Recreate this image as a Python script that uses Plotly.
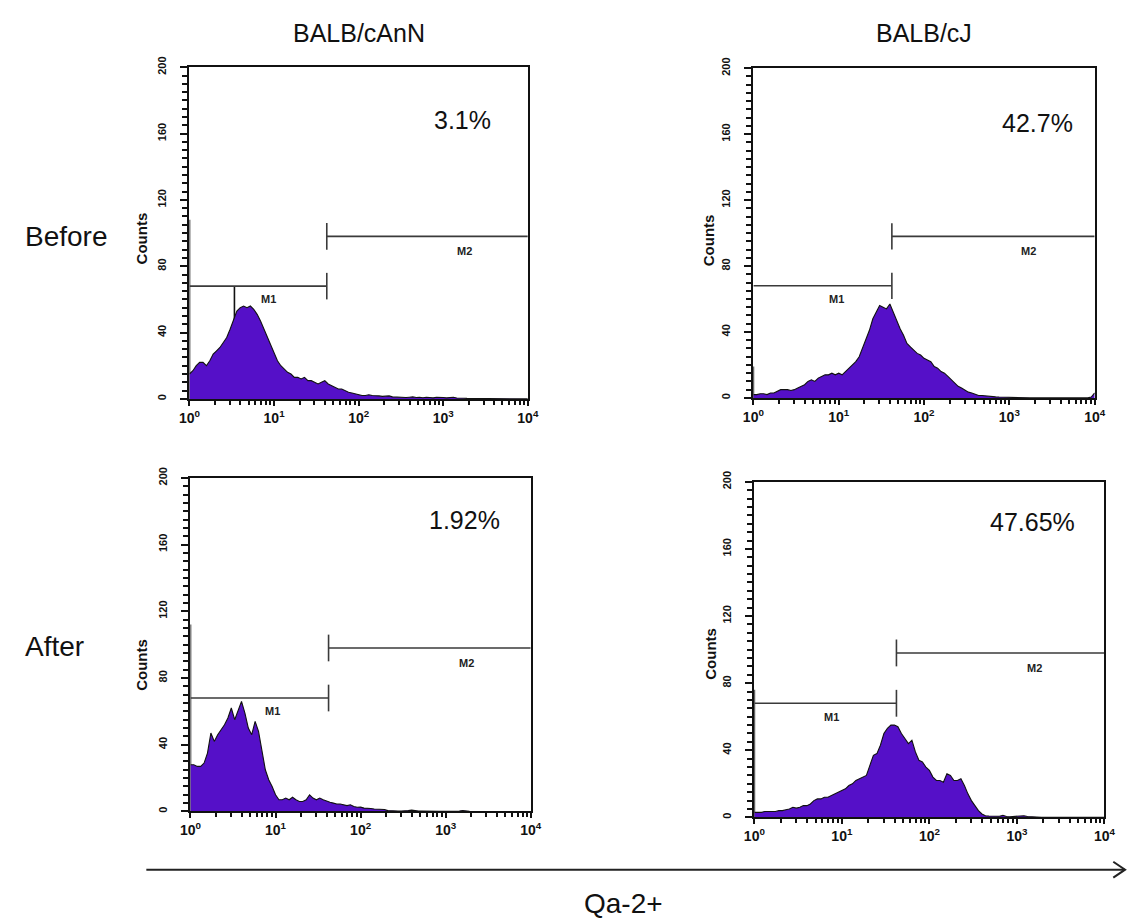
import plotly.graph_objects as go

# ---------------------------------------------------------------------------
# Data: Qa-2 fluorescence histograms (counts per log-channel bin)
# bins are spaced every 0.04 decade from 10^0 to 10^4 (101 bins)
# ---------------------------------------------------------------------------
STRAINS = ["BALB/cAnN", "BALB/cJ"]
TIMEPOINTS = ["Before", "After"]
DECADE_TICKS = [1, 10, 100, 1000, 10000]
DECADE_LABELS = ["10<sup>0</sup>", "10<sup>1</sup>", "10<sup>2</sup>", "10<sup>3</sup>", "10<sup>4</sup>"]
COUNT_TICKS = [0, 40, 80, 120, 160, 200]

before_cAnN = [
    15, 17, 20, 22, 22, 20, 23, 27, 29, 31,
    34, 37, 42, 47, 53, 55, 56, 55, 56, 54,
    51, 47, 42, 37, 32, 27, 23, 20, 18, 16,
    15, 13, 13, 12, 13, 11, 11, 10, 9, 10,
    11, 9, 8, 7, 6, 6, 5, 4, 3.5, 3,
    2.5, 2, 2, 2.5, 2, 2, 1.8, 1.5, 1.5, 1.8,
    1.2, 1, 1.2, 1, 0.8, 1, 1.2, 0.8, 1, 0.7,
    1, 0.8, 0.6, 1, 0.7, 0.8, 0.6, 0.8, 1, 0.5,
    0.6, 0.4, 0.3, 0.3, 0.2, 0.3, 0.2, 0.2, 0.1, 0.2,
    0.1, 0.1, 0, 0, 0.1, 0, 0, 0, 0, 0,
    0,
]
before_cJ = [
    2, 2, 2.5, 2.5, 2, 3, 3, 4, 5, 5,
    5, 4.5, 5, 6, 7, 8, 10, 11, 10, 12,
    13, 14, 14, 15, 14, 15, 14, 16, 18, 20,
    22, 25, 30, 36, 41, 48, 52, 56, 55, 54,
    57, 52, 46, 42, 38, 33, 31, 29, 27, 26,
    24, 23, 22, 19, 18, 16, 15, 13, 11, 9,
    7, 6, 4.5, 3.5, 3, 2, 1.5, 1.5, 1.2, 1,
    0.8, 0.6, 0.5, 0.4, 0.3, 0.3, 0.2, 0.2, 0.1, 0.1,
    0.1, 0, 0, 0, 0, 0, 0, 0, 0, 0,
    0, 0, 0, 0, 0, 0, 0, 0, 0, 0.5,
    3,
]
after_cAnN = [
    28, 28, 27, 27, 29, 35, 47, 42, 46, 49,
    52, 56, 62, 55, 60, 66, 59, 50, 46, 54,
    48, 37, 25, 19, 15, 10, 7, 7, 8, 7,
    8.5, 7, 6, 6, 7, 10, 8, 7, 8, 7,
    6, 5.5, 5, 4.5, 4.5, 4, 3.5, 4, 3, 2.5,
    2.6, 2, 2, 1.8, 1.5, 1.5, 1.2, 1.2, 0.5, 0.3,
    0.3, 0.2, 0.3, 0.2, 0.5, 0.8, 0.3, 0.2, 0.2, 0.1,
    0.1, 0.1, 0.2, 0.1, 0.1, 0.1, 0.2, 0.1, 0.2, 0.3,
    0.6, 0.2, 0.1, 0, 0, 0, 0, 0, 0, 0,
    0, 0, 0, 0, 0, 0, 0, 0, 0, 0,
    0,
]
after_cJ = [
    3, 3, 3, 3.5, 3.5, 3.5, 3.5, 4, 4, 4.5,
    5, 6, 5.5, 6, 7, 7, 8, 10, 11, 11,
    12, 12, 13, 14, 15, 16, 17, 19, 20, 22,
    23, 24, 25, 31, 37, 38, 43, 50, 53, 55,
    55, 54, 50, 47, 44, 46, 39, 34, 33, 30,
    28, 24, 22, 22, 21, 26, 25, 22, 22, 23,
    19, 14, 10, 7, 4, 2, 1, 0.8, 0.8, 1,
    0.7, 1.2, 0.5, 0.4, 0.6, 0.5, 0.8, 1, 0.5, 0.3,
    0.2, 0.1, 0, 0, 0, 0, 0, 0, 0, 0,
    0, 0, 0, 0, 0, 0, 0, 0, 0, 0,
    0,
]
# counts piled up in the lowest channel (drawn as a spike at 10^0)
first_channel = [108, 19, 112, 76]
# isolated single-channel spikes: panel index, channel value, count
single_spikes = [(0, 3.4, 68)]

# marker gates: M1 (negative) and M2 (Qa-2+) split at the same channel
gate_split = [42, 42, 42, 42]
m1_level = 68
m2_level = 98
positive_pct = ["3.1%", "42.7%", "1.92%", "47.65%"]

BIN_STEP = 0.04
bin_log = [round(i * BIN_STEP, 2) for i in range(len(before_cAnN))]
bin_x = [10 ** v for v in bin_log]

# ---------------------------------------------------------------------------
# Layout geometry (pixels on a 1139 x 922 page)
# ---------------------------------------------------------------------------
W, H = 1139, 922
FONT = "Arial, Liberation Sans, sans-serif"
FILL = "#5510c8"
INK = "#111111"
MARK = "#3a3a3a"

panel_boxes = [  # left, right, top, bottom
    (182, 527, 57, 393),
    (757, 1105, 58, 392),
    (183, 530, 473, 811),
    (758, 1115, 477, 817),
]
counts_label_pos = [(133, 230), (712, 232), (133, 662), (713, 651)]
pct_pos = [(3.23, 168), (3.33, 167), (3.22, 175), (3.18, 176)]
m1_label_x = [0.94, 0.98, 0.96, 0.885]
m2_label_x = [3.25, 3.22, 3.25, 3.20]


def px(x):
    return x / W


def py(y):
    return 1 - y / H


def page_text(x, y, text, size, anchor="center", angle=0):
    return dict(x=px(x), y=py(y), xref="paper", yref="paper", text=text,
                xanchor=anchor, yanchor="middle", textangle=angle, showarrow=False,
                font=dict(family=FONT, size=size, color="#111"))


series = [before_cAnN, before_cJ, after_cAnN, after_cJ]

fig = go.Figure()
annotations = []
minor_x = [m * 10 ** k for k in range(4) for m in range(2, 10)]

for i, counts in enumerate(series):
    n = i + 1
    xa = "x" if n == 1 else f"x{n}"
    ya = "y" if n == 1 else f"y{n}"

    # spikes go underneath so the opaque histogram fill hides their lower part
    sx, sy = [bin_x[0], bin_x[0]], [0, first_channel[i]]
    for p, chan, cnt in single_spikes:
        if p == i:
            sx += [None, chan, chan]
            sy += [None, 0, cnt]
    fig.add_trace(go.Scatter(
        x=sx, y=sy, mode="lines",
        line=dict(color=INK, width=1.6), xaxis=xa, yaxis=ya,
        showlegend=False, hoverinfo="skip",
    ))
    # histogram body
    fig.add_trace(go.Scatter(
        x=bin_x, y=counts, mode="lines", fill="tozeroy",
        fillcolor=FILL, line=dict(color=INK, width=1.1),
        xaxis=xa, yaxis=ya, showlegend=False, hoverinfo="skip",
    ))
    # M1 / M2 marker bars with end ticks
    s = gate_split[i]
    tick_h = 8
    fig.add_trace(go.Scatter(
        x=[bin_x[0], s, None, s, s, None, s, bin_x[-1], None, s, s],
        y=[m1_level, m1_level, None, m1_level - tick_h, m1_level + tick_h, None,
           m2_level, m2_level, None, m2_level - tick_h, m2_level + tick_h],
        mode="lines", line=dict(color=MARK, width=1.6),
        xaxis=xa, yaxis=ya, showlegend=False, hoverinfo="skip",
    ))

    annotations += [
        dict(x=m1_label_x[i], y=60, xref=xa, yref=ya, text="<b>M1</b>",
             showarrow=False, font=dict(family=FONT, size=11, color="#222")),
        dict(x=m2_label_x[i], y=89, xref=xa, yref=ya, text="<b>M2</b>",
             showarrow=False, font=dict(family=FONT, size=11, color="#222")),
        dict(x=pct_pos[i][0], y=pct_pos[i][1], xref=xa, yref=ya, text=positive_pct[i],
             showarrow=False, font=dict(family=FONT, size=25, color="#111")),
        page_text(counts_label_pos[i][0], counts_label_pos[i][1], "<b>Counts</b>", 15,
                  angle=-90),
    ]

    l, r, t, b = panel_boxes[i]
    axis_common = dict(showline=True, linecolor=INK, linewidth=2, mirror=True,
                       showgrid=False, zeroline=False, ticks="outside",
                       tickcolor=INK, tickwidth=2)
    fig.layout[f"xaxis{n if n > 1 else ''}"] = dict(
        axis_common, domain=[px(l), px(r)], anchor=ya, type="log", range=[0, 4],
        tickmode="array", tickvals=DECADE_TICKS, ticktext=DECADE_LABELS, ticklen=5,
        tickfont=dict(family=FONT, size=14, color="#111", weight="bold"),
        minor=dict(ticks="outside", tickmode="array", tickvals=minor_x,
                   ticklen=4, tickwidth=1.5, tickcolor=INK, showgrid=False),
    )
    fig.layout[f"yaxis{n if n > 1 else ''}"] = dict(
        axis_common, domain=[py(b), py(t)], anchor=xa, range=[0, 200],
        tickmode="array", tickvals=COUNT_TICKS, tickangle=-90, ticklen=7,
        ticklabelstandoff=10,
        tickfont=dict(family=FONT, size=11, color="#111", weight="bold"),
        minor=dict(ticks="outside", dtick=5, ticklen=5, tickwidth=1.5,
                   tickcolor=INK, showgrid=False),
    )

# column and row headings
for j, strain in enumerate(STRAINS):
    l, r, _, _ = panel_boxes[j]
    annotations.append(page_text((l + r) / 2, 22, strain, 25))
for label, yy in zip(TIMEPOINTS, [228, 644]):
    annotations.append(page_text(12, yy, label, 28, anchor="left"))

annotations.append(page_text(625, 904, "Qa-2+", 28))

# shared fluorescence-direction arrow
shapes = [
    dict(type="line", xref="paper", yref="paper", x0=px(138), x1=px(1136),
         y0=py(870), y1=py(870), line=dict(color="#222", width=2)),
    dict(type="path", xref="paper", yref="paper",
         path=f"M {px(1124)} {py(862)} L {px(1136)} {py(870)} L {px(1124)} {py(878)}",
         line=dict(color="#222", width=2)),
]

fig.update_layout(
    width=W, height=H, margin=dict(l=0, r=0, t=0, b=0),
    paper_bgcolor="white", plot_bgcolor="white",
    annotations=annotations, shapes=shapes, showlegend=False,
)

fig.write_html("out.html")
